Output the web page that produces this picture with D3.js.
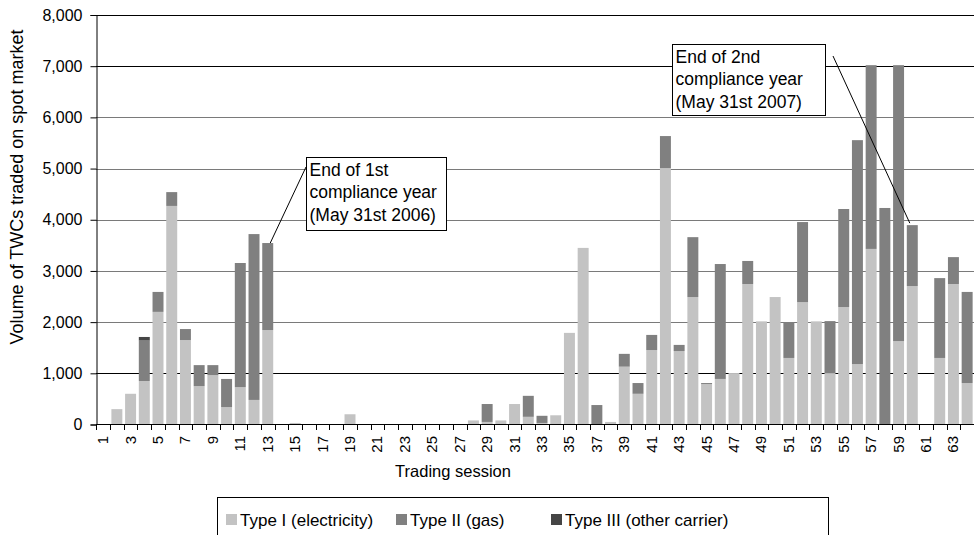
<!DOCTYPE html>
<html><head><meta charset="utf-8">
<script src="https://cdn.jsdelivr.net/npm/d3@7"></script>
<style>body{margin:0;background:#fff}svg{display:block;font-family:"Liberation Sans",Arial,sans-serif}</style>
</head><body>
<script>
const sessions = d3.range(1, 65);
const typeI = [0,300,600,850,2200,4270,1650,750,965,340,730,480,1845,0,30,0,0,0,200,0,0,0,0,0,0,0,0,80,50,80,400,150,30,180,1790,3450,0,50,1130,600,1455,5010,1435,2490,790,890,1005,2745,2015,2490,1300,2390,2015,1005,2295,1180,3430,0,1630,2705,0,1300,2745,810];
const typeII = [0,0,0,790,390,270,215,410,195,550,2425,3240,1700,0,0,0,0,0,0,0,0,0,0,0,0,0,0,0,350,0,0,410,140,0,0,0,380,0,250,210,295,625,120,1170,20,2245,0,450,0,0,700,1565,0,1015,1915,4375,3590,4230,5390,1190,0,1560,525,1780];
const typeIII = [0,0,0,70,0,0,0,0,0,0,0,0,0,0,0,0,0,0,0,0,0,0,0,0,0,0,0,0,0,0,0,0,0,0,0,0,0,0,0,0,0,0,0,0,0,0,0,0,0,0,0,0,0,0,0,0,0,0,0,0,0,0,0,0];
const seriesNames = ["Type I (electricity)", "Type II (gas)", "Type III (other carrier)"];
const yTicks = [0,1000,2000,3000,4000,5000,6000,7000,8000];
const annotations = [
  {session: 13, lines: ["End of 1st", "compliance year", "(May 31st 2006)"]},
  {session: 60, lines: ["End of 2nd", "compliance year", "(May 31st 2007)"]}
];

const W = 974, H = 535;
const colors = ["#c3c3c3", "#808080", "#454545"];
const svg = d3.select("body").append("svg").attr("width", W).attr("height", H);

const x = d3.scaleBand().domain(sessions).range([96.3, 974]).paddingInner(0.2).paddingOuter(0.1);
const y = d3.scaleLinear().domain([0, 8000]).range([424.5, 15]);

// gridlines
svg.append("g").selectAll("line").data(yTicks.filter(d => d > 0)).join("line")
  .attr("x1", 96).attr("x2", W)
  .attr("y1", d => Math.round(y(d)) + 0.5).attr("y2", d => Math.round(y(d)) + 0.5)
  .attr("stroke", d => (d === 1000 || d >= 7000) ? "#000" : "#7a7a7a").attr("stroke-width", 1);

// stacked bars
const rows = sessions.map((s, i) => ({s, a: typeI[i], b: typeII[i], c: typeIII[i]}));
const stack = d3.stack().keys(["a", "b", "c"])(rows);
svg.append("g").selectAll("g").data(stack).join("g").attr("fill", (d, i) => colors[i])
  .selectAll("rect").data(d => d.filter(p => p[1] - p[0] > 0)).join("rect")
  .attr("x", d => x(d.data.s)).attr("width", x.bandwidth())
  .attr("y", d => y(d[1])).attr("height", d => y(d[0]) - y(d[1]));

// y axis
const yAxis = d3.axisLeft(y).tickValues(yTicks).tickFormat(d3.format(",")).tickSize(6).tickPadding(8);
const gy = svg.append("g").attr("transform", "translate(96.5,0)").call(yAxis);
gy.select(".domain").attr("stroke", "#000");
gy.selectAll("text").attr("font-size", 16).attr("font-family", "Liberation Sans, Arial").attr("fill", "#000");

// x axis
const step = x.step();
const x0 = x.range()[0];
svg.append("line").attr("x1", 96).attr("x2", W).attr("y1", 424.5).attr("y2", 424.5).attr("stroke", "#000");
svg.append("g").selectAll("line").data(d3.range(0, 65)).join("line")
  .attr("x1", i => Math.round(x0 + i * step) + 0.5).attr("x2", i => Math.round(x0 + i * step) + 0.5)
  .attr("y1", 424.5).attr("y2", 430).attr("stroke", "#000");
svg.append("g").selectAll("text").data(sessions.filter(s => s % 2 === 1)).join("text")
  .attr("transform", s => `translate(${x(s) + x.bandwidth() / 2 + 5},436) rotate(-90)`)
  .attr("text-anchor", "end").attr("font-size", 15).text(s => s);

// axis titles
svg.append("text").attr("x", 453).attr("y", 477).attr("text-anchor", "middle").attr("font-size", 16.5).text("Trading session");
svg.append("text").attr("transform", "translate(23,187) rotate(-90)").attr("text-anchor", "middle").attr("font-size", 18).text("Volume of TWCs traded on spot market");

// annotations
const boxes = [{bx: 306, by: 157, bw: 140, bh: 73, lx: 306, ly: 167, dx: 8, dy: 0},
               {bx: 672, by: 44, bw: 153, bh: 71, lx: 833, ly: 56, dx: 3, dy: -2}];
annotations.forEach((a, k) => {
  const b = boxes[k];
  const idx = a.session - 1;
  const tot = typeI[idx] + typeII[idx] + typeIII[idx];
  svg.append("line").attr("x1", b.lx).attr("y1", b.ly)
    .attr("x2", x(a.session) + b.dx).attr("y2", y(tot) + b.dy).attr("stroke", "#000");
  svg.append("rect").attr("x", b.bx + 0.5).attr("y", b.by + 0.5).attr("width", b.bw).attr("height", b.bh)
    .attr("fill", "#fff").attr("stroke", "#000");
  a.lines.forEach((t, j) => svg.append("text").attr("x", b.bx + 3.5).attr("y", b.by + 18.5 + j * 22.5)
    .attr("font-size", 17.5).text(t));
});

// legend
svg.append("rect").attr("x", 217.5).attr("y", 497.5).attr("width", 611).attr("height", 60).attr("fill", "#fff").attr("stroke", "#000");
const legX = [226, 396, 551];
seriesNames.forEach((n, i) => {
  svg.append("rect").attr("x", legX[i]).attr("y", 514).attr("width", 11).attr("height", 11).attr("fill", colors[i]);
  svg.append("text").attr("x", legX[i] + 14).attr("y", 526).attr("font-size", 17).text(n);
});
</script>
</body></html>
